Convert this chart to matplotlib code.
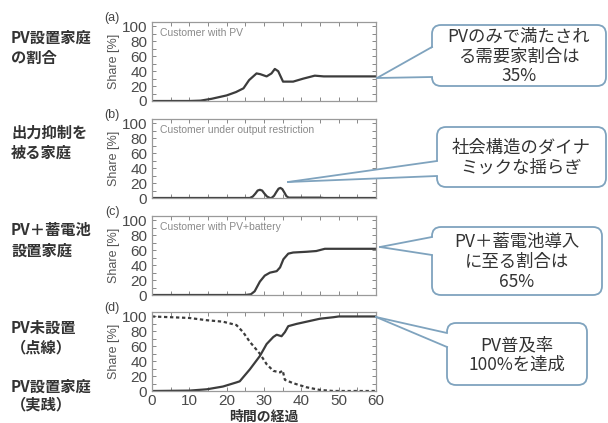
import numpy as np
import matplotlib
matplotlib.use('Agg')
import matplotlib.pyplot as plt
from matplotlib.patches import FancyBboxPatch, Polygon

plt.rcParams['font.family'] = ['Liberation Sans', 'Noto Sans CJK JP', 'DejaVu Sans']
JP = ['Noto Sans CJK JP', 'DejaVu Sans']

# (a) customer with PV
t_a = [0, 10, 13, 16, 20, 22.5, 24.5, 26, 28, 29, 30.7, 32, 32.9, 33.8, 35.1, 37.8, 40.5, 43.6, 46, 60]
v_a = [0, 0, 0.5, 3, 7.5, 12, 17, 28, 37, 36, 33, 37, 43, 40, 26, 26, 30, 34, 33, 33]

# (b) customer under output restriction
t_b = [0, 26.2, 27, 27.7, 28.3, 28.9, 29.5, 30.1, 30.8, 31.6, 32, 32.7, 33.3, 33.9, 34.4,
       34.9, 35.5, 36, 36.6, 45, 46, 60]
v_b = [0, 0, 2, 6, 10, 11, 10, 6, 2, 0, 0, 3, 8, 12.5, 13.5, 12, 7, 2.5, 0.5, 0.5, 0, 0]

# (c) customer with PV+battery
t_c = [0, 25, 26.5, 27.5, 28.9, 30.2, 31.6, 33.4, 34.3, 35.2, 36.5, 37.8, 41.4, 44, 46.3, 60]
v_c = [0, 0, 1, 5, 18, 26, 30, 32, 37, 48, 55.5, 57, 58, 59, 62, 62]

# (d) PV installed (solid) / not installed (dotted)
t_d = [0, 10, 14.7, 19, 22.6, 23.5, 26.2, 28.9, 30.7, 32.5, 33.4, 34.7, 35.6, 36.5, 38.7,
       41.4, 45, 48.6, 50, 60]
v_d = [0, 0.5, 2.3, 6, 11.5, 13, 29, 47, 63, 72.5, 75.5, 73.5, 79, 87, 90, 93, 97, 99, 100, 100]
t_e = [0, 10, 14.6, 19, 22.6, 24.4, 26.2, 28.9, 30.7, 32.5, 34.3, 35, 35.6, 37.8, 41.4, 45, 48.6, 60]
v_e = [100, 98, 95, 93, 88.5, 79, 66, 50, 36, 27, 25, 27.5, 15, 10.5, 5, 1.4, 0, 0]

panel_tags = ['(a)', '(b)', '(c)', '(d)']
inner_titles = ['Customer with PV', 'Customer under output restriction',
                'Customer with PV+battery', '']
left_labels = [['PV設置家庭', 'の割合'], ['出力抑制を', '被る家庭'],
               ['PV＋蓄電池', '設置家庭'], ['PV未設置', '（点線）', 'PV設置家庭', '（実践）']]
callouts = ['PVのみで満たされ\nる需要家割合は\n35%', '社会構造のダイナ\nミックな揺らぎ',
            'PV＋蓄電池導入\nに至る割合は\n65%', 'PV普及率\n100%を達成']

W, H = 608, 423
fig = plt.figure(figsize=(W / 100, H / 100), dpi=100)

line_c = '#3c3c3c'
tops = [22, 119, 216, 312]
axes = []
for i, top in enumerate(tops):
    ax = fig.add_axes([152 / W, 1 - (top + 79) / H, 224 / W, 79 / H])
    axes.append(ax)
    ax.set_xlim(0, 60)
    ax.set_ylim(0, 106)
    ax.set_xticks(np.arange(0, 61, 5))
    ax.set_yticks(np.arange(0, 101, 10))
    ax.set_yticklabels([str(v) if v % 20 == 0 else '' for v in range(0, 101, 10)])
    if i == 3:
        ax.set_xticklabels([str(v) if v % 10 == 0 else '' for v in range(0, 61, 5)])
    else:
        ax.set_xticklabels([])
    ax.tick_params(direction='in', top=True, right=True, length=3, width=0.7,
                   color='#888888', labelsize=11, labelcolor='#4a4a4a')
    ax.tick_params(axis='y', pad=3.5)
    ax.tick_params(axis='x', pad=2.5)
    for s in ax.spines.values():
        s.set_color('#9a9a9a')
        s.set_linewidth(0.9)
    ax.set_ylabel('Share [%]', fontsize=9, color='#555555', labelpad=1)
    ax.text(0.035, 0.86, inner_titles[i], transform=ax.transAxes, fontsize=7.5,
            color='#8a8a8a', va='center')
    fig.text(112 / W, 1 - (top - 4) / H, panel_tags[i], fontsize=9, color='#444444',
             ha='center', va='center')

axes[0].plot(t_a, v_a, color=line_c, lw=1.6)
axes[1].plot(t_b, v_b, color=line_c, lw=1.6)
axes[2].plot(t_c, v_c, color=line_c, lw=1.6)
axes[3].plot(t_d, v_d, color=line_c, lw=1.6)
axes[3].plot(t_e, v_e, color=line_c, lw=1.6, linestyle=(0, (1.5, 1.2)))
axes[3].set_xlabel('時間の経過', family=JP, fontsize=10, fontweight='bold',
                   color='#333333', labelpad=1)

# left-hand Japanese labels (pixel positions)
label_y = [[38, 58], [133, 153], [230, 251], [328, 347, 387, 404]]
for labs, ys in zip(left_labels, label_y):
    for lab, y in zip(labs, ys):
        fig.text(11 / W, 1 - y / H, lab, family=JP, fontsize=11, fontweight='bold',
                 color='#333333', va='center', ha='left')

# callout overlay in pixel coordinates
ov = fig.add_axes([0, 0, 1, 1], zorder=10)
ov.set_xlim(0, W)
ov.set_ylim(H, 0)
ov.axis('off')
ov.patch.set_alpha(0)

edge_c = '#7fa3be'
boxes = [(432, 25, 606, 86), (437, 127, 606, 187), (432, 227, 602, 295), (447, 323, 587, 385)]
tails = [((377, 78), (432, 47), (432, 77)),
         ((288, 182), (437, 161), (437, 176)),
         ((380, 247), (432, 237), (432, 255)),
         ((376, 317), (447, 333), (447, 347))]
for (x0, y0, x1, y1), (tip, b1, b2), txt in zip(boxes, tails, callouts):
    ov.add_patch(FancyBboxPatch((x0, y0), x1 - x0, y1 - y0,
                                boxstyle='round,pad=0,rounding_size=9',
                                fc='white', ec=edge_c, lw=1.3, zorder=1))
    ov.add_patch(Polygon([tip, (b1[0] + 2, b1[1]), (b2[0] + 2, b2[1])], closed=True,
                         fc='white', ec='none', zorder=2))
    ov.plot([tip[0], b1[0]], [tip[1], b1[1]], color=edge_c, lw=1.3, zorder=3)
    ov.plot([tip[0], b2[0]], [tip[1], b2[1]], color=edge_c, lw=1.3, zorder=3)
    ov.text((x0 + x1) / 2, (y0 + y1) / 2 + 1, txt, family=JP, fontsize=12.5,
            color='#333333', ha='center', va='center', linespacing=1.12, zorder=4)

fig.savefig('out.png', dpi=100)
